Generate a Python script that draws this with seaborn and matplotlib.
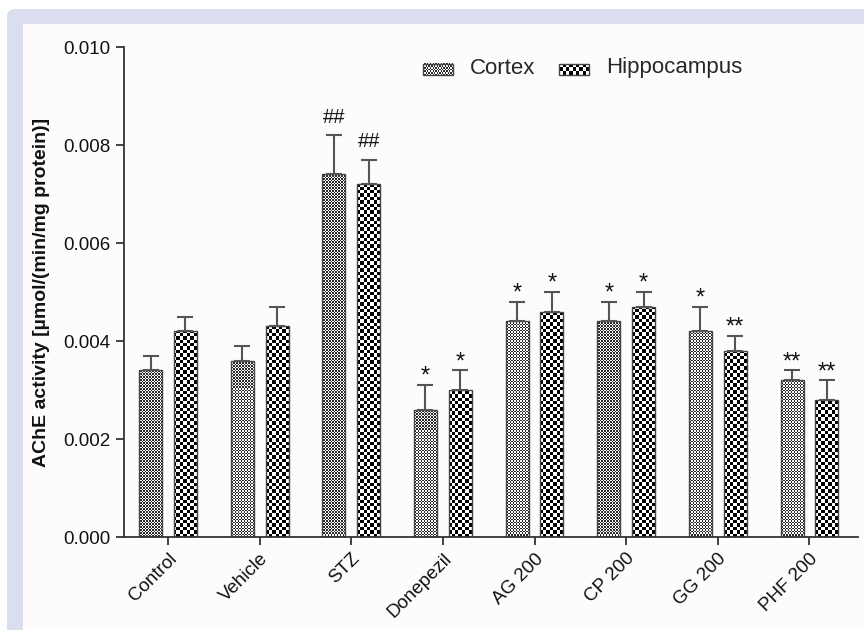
import numpy as np
import pandas as pd
import matplotlib
matplotlib.use('Agg')
import matplotlib.pyplot as plt
import seaborn as sns
from matplotlib.patches import Rectangle, FancyBboxPatch
from matplotlib.colors import ListedColormap
from matplotlib.ticker import FormatStrFormatter
from matplotlib.transforms import IdentityTransform

groups = ['Control', 'Vehicle', 'STZ', 'Donepezil', 'AG 200', 'CP 200', 'GG 200', 'PHF 200']
cortex_mean = [0.0034, 0.0036, 0.0074, 0.0026, 0.0044, 0.0044, 0.0042, 0.0032]
cortex_sem = [0.0003, 0.0003, 0.0008, 0.0005, 0.0004, 0.0004, 0.0005, 0.0002]
hippo_mean = [0.0042, 0.0043, 0.0072, 0.0030, 0.0046, 0.0047, 0.0038, 0.0028]
hippo_sem = [0.0003, 0.0004, 0.0005, 0.0004, 0.0004, 0.0003, 0.0003, 0.0004]
cortex_sig = ['', '', '##', '*', '*', '*', '*', '**']
hippo_sig = ['', '', '##', '*', '*', '*', '**', '**']
tissues = ['Cortex', 'Hippocampus']


class CheckerHandler:
    """legend handle drawn as a small checkerboard"""
    def __init__(self, nx, ny, color):
        self.nx, self.ny, self.color = nx, ny, color

    def legend_artist(self, legend, orig_handle, fontsize, handlebox):
        x0, y0 = handlebox.xdescent, handlebox.ydescent
        w, h = handlebox.width, handlebox.height
        tr = handlebox.get_transform()
        bg = Rectangle((x0, y0), w, h, facecolor='white', edgecolor='none', transform=tr)
        handlebox.add_artist(bg)
        cw, ch = w / self.nx, h / self.ny
        for i in range(self.nx):
            for j in range(self.ny):
                if (i + j) % 2:
                    handlebox.add_artist(Rectangle((x0 + i * cw, y0 + j * ch), cw, ch,
                                                   facecolor=self.color, edgecolor='none',
                                                   lw=0, transform=tr))
        outline = Rectangle((x0, y0), w, h, facecolor='none', edgecolor='#444444',
                            lw=1, transform=tr)
        handlebox.add_artist(outline)
        return outline


sns.set_style('ticks')
plt.rcParams['font.family'] = ['Liberation Sans', 'DejaVu Sans']

fig = plt.figure(figsize=(8.64, 6.3), dpi=100, facecolor='white')
# lavender frame and white panel, in pixels
fig.add_artist(FancyBboxPatch((7, -40), 900, 661, boxstyle='round,pad=0,rounding_size=8',
                              transform=IdentityTransform(), facecolor='#dadeee',
                              edgecolor='none', zorder=-10))
fig.add_artist(Rectangle((23, -40), 900, 646, transform=IdentityTransform(),
                         facecolor='#fdfcfa', edgecolor='none', zorder=-9))

ax = fig.add_axes([124 / 864, 93 / 630, 734 / 864, 490 / 630])
ax.set_facecolor('none')

df = pd.DataFrame({
    'group': groups * 2,
    'tissue': ['Cortex'] * len(groups) + ['Hippocampus'] * len(groups),
    'value': cortex_mean + hippo_mean,
})
sns.barplot(data=df, x='group', y='value', hue='tissue', order=groups, hue_order=tissues,
            palette=['white', 'white'], width=0.76, gap=0.34, edgecolor='#444444',
            linewidth=1.0, errorbar=None, legend=False, ax=ax)

xlim, ylim = (-0.48, 7.53), (0, 0.010)
ax.set_xlim(*xlim)
ax.set_ylim(*ylim)

# checkerboard fills clipped to each bar
inv = ax.transData.inverted()
for cont, cell, color in zip(ax.containers, [1.5, 3.4], ['#2a2a2a', 'black']):
    for bar in cont:
        x0, y0 = ax.transData.transform((bar.get_x(), 0))
        x1, y1 = ax.transData.transform((bar.get_x() + bar.get_width(), bar.get_height()))
        px0, py0 = np.floor(x0), np.floor(y0)
        nx = int(np.ceil((x1 - px0) / cell))
        ny = int(np.ceil((y1 - py0) / cell))
        dx0, dy0 = inv.transform((px0, py0))
        dx1, dy1 = inv.transform((px0 + nx * cell, py0 + ny * cell))
        checker = np.indices((ny, nx)).sum(axis=0) % 2
        im = ax.imshow(checker, cmap=ListedColormap(['white', color]), vmin=0, vmax=1,
                       extent=(dx0, dx1, dy0, dy1), origin='lower',
                       interpolation='nearest', aspect='auto', zorder=1.5)
        im.set_clip_path(bar)
        bar.set_facecolor('none')
        bar.set_zorder(2)
ax.set_xlim(*xlim)
ax.set_ylim(*ylim)

for cont, sem, sigs in zip(ax.containers, [cortex_sem, hippo_sem], [cortex_sig, hippo_sig]):
    xs = [b.get_x() + b.get_width() / 2 for b in cont]
    ys = [b.get_height() for b in cont]
    ax.errorbar(xs, ys, yerr=[np.zeros(len(sem)), sem], fmt='none', ecolor='#555555',
                elinewidth=1.5, capsize=6, capthick=1.5, zorder=3)
    for x, y, e, s in zip(xs, ys, sem, sigs):
        if not s:
            continue
        if '*' in s:
            ax.annotate(s, (x, y + e), xytext=(0, 1.5), textcoords='offset points',
                        ha='center', va='baseline', fontsize=17, color='#111111')
        else:
            ax.annotate(s, (x, y + e), xytext=(0, 9), textcoords='offset points',
                        ha='center', va='baseline', fontsize=14.5, color='#111111')

sns.despine(ax=ax)
for side in ['left', 'bottom']:
    ax.spines[side].set_color('#333333')
    ax.spines[side].set_linewidth(1.3)
ax.tick_params(length=6, width=1.3, color='#333333', labelsize=13.5, labelcolor='#111111')
ax.set_yticks(np.arange(0, 0.0101, 0.002))
ax.yaxis.set_major_formatter(FormatStrFormatter('%.3f'))
ax.set_xticks(range(len(groups)))
ax.set_xticklabels(groups, rotation=45, ha='right', va='top', rotation_mode='anchor')
ax.set_xlabel('')
ax.set_ylabel('AChE activity [µmol/(min/mg protein)]', fontsize=14, fontweight='bold',
              labelpad=10, color='#111111')

handles = [Rectangle((0, 0), 1, 1), Rectangle((0, 0), 1, 1)]
fig.legend(handles, tissues, loc='center left', bbox_to_anchor=(423 / 864, 1 - 68 / 630),
           ncol=2, frameon=False, fontsize=16, borderpad=0, borderaxespad=0,
           handlelength=1.35, handleheight=0.45, handletextpad=0.75, columnspacing=1.1,
           handler_map={handles[0]: CheckerHandler(22, 7, '#2a2a2a'),
                        handles[1]: CheckerHandler(9, 3, 'black')})

fig.savefig('out.png', dpi=100, facecolor=fig.get_facecolor())
